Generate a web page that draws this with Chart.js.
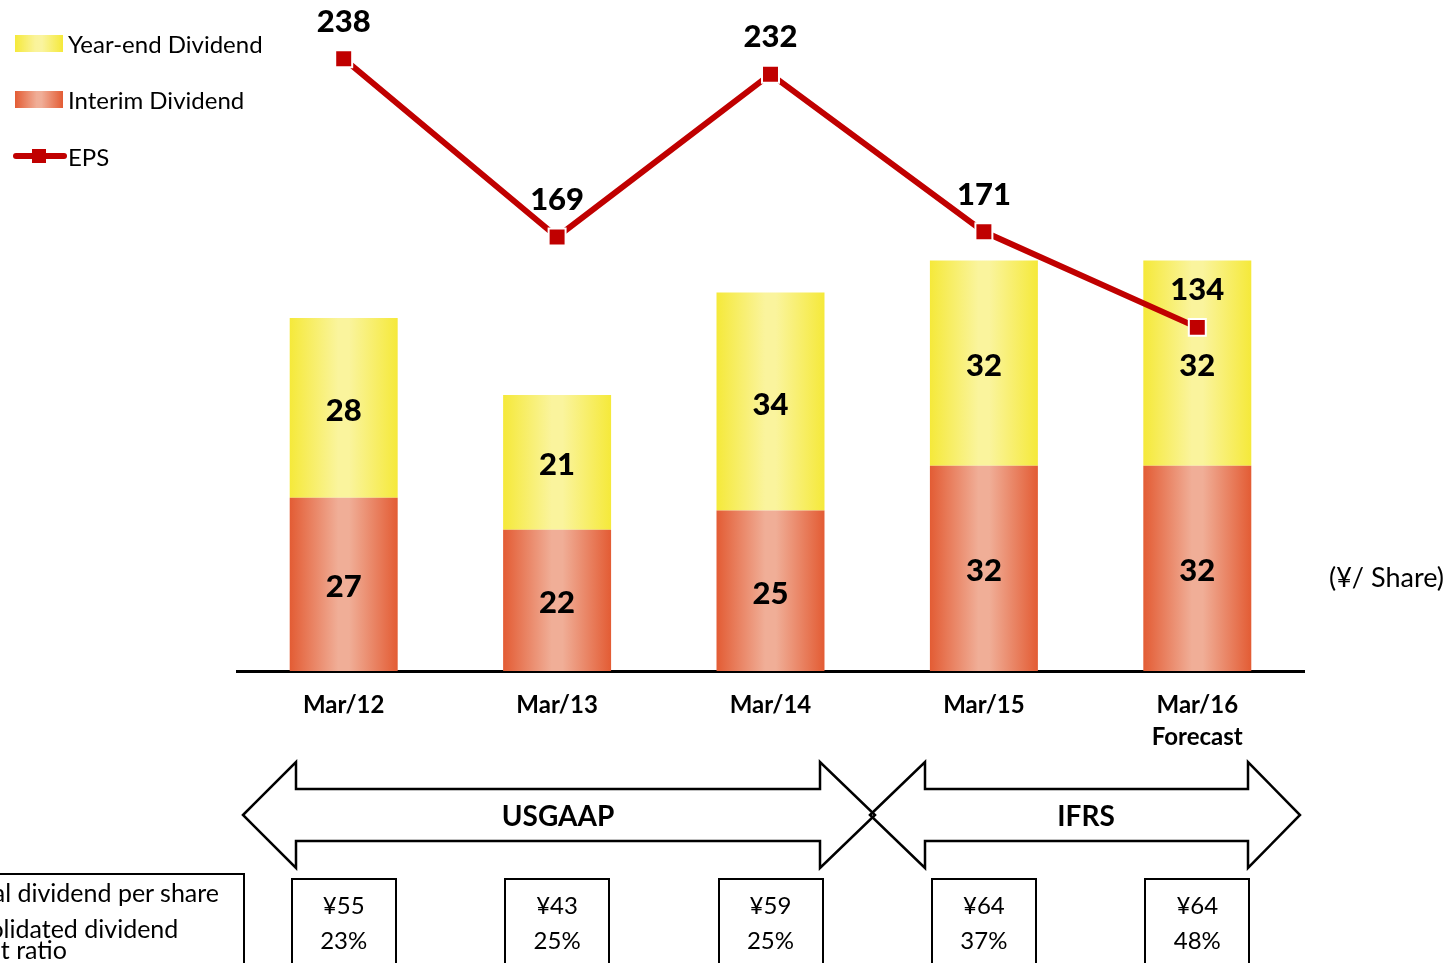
<!DOCTYPE html>
<html>
<head>
<meta charset="utf-8">
<script src="https://cdn.jsdelivr.net/npm/chart.js@4.4.1/dist/chart.umd.min.js"></script>
<style>
    html, body { margin: 0; padding: 0; background: #fff; }
    body { font-family: 'Lato', 'Open Sans', sans-serif; color: #000; }
    #page { position: relative; width: 1449px; height: 963px; overflow: hidden; }
    #chartWrap { position: absolute; left: 0; top: 0; width: 1449px; height: 963px; }
    .legend-item { position: absolute; left: 13px; height: 24px; display: flex; align-items: center; font-size: 24px; }
    .swatch { width: 48px; height: 17px; margin-left: 2px; margin-right: 5px; }
    .sw-year { background: linear-gradient(90deg, #f5e93a, #faf39a 42%, #faf4a0 56%, #f5e93a); }
    .sw-interim { background: linear-gradient(90deg, #e35c34, #f0ad96 45%, #f0ae98 55%, #e35c34); }
    .unit { position: absolute; left: 1329px; top: 560px; font-size: 27px; }
    #arrows { position: absolute; left: 0; top: 0; }
    .arrow-label { position: absolute; top: 798px; font-size: 28px; font-weight: bold; transform: translateX(-50%); }
    .box { position: absolute; top: 878px; width: 106px; height: 110px; border: 2px solid #000; text-align: center; font-size: 24px; line-height: 35px; padding-top: 7px; box-sizing: border-box; }
    .row-label { position: absolute; left: -74px; top: 873px; width: 315px; height: 110px; border: 2px solid #000; font-size: 25px; }
    .row-label div { position: absolute; left: 6px; white-space: nowrap; }
</style>
</head>
<body>
<div id="page">
    <div id="chartWrap"><canvas id="dividendChart"></canvas></div>

    <div class="legend-item" style="top: 31px;"><div class="swatch sw-year"></div>Year-end Dividend</div>
    <div class="legend-item" style="top: 87px;"><div class="swatch sw-interim"></div>Interim Dividend</div>
    <div class="legend-item" style="top: 144px;">
        <svg width="54" height="24" style="margin-right: 1px;">
            <line x1="3" y1="12" x2="51" y2="12" stroke="#c00000" stroke-width="6" stroke-linecap="round"/>
            <rect x="19" y="5" width="14" height="14" fill="#c00000"/>
        </svg>EPS
    </div>

    <div class="unit">(¥/ Share)</div>

    <svg id="arrows" width="1449" height="963">
        <polygon points="243,815 296,762 296,789 820,789 820,762 875,815 820,868 820,841 296,841 296,868"
                 fill="none" stroke="#000" stroke-width="2.5" stroke-linejoin="miter"/>
        <polygon points="870,815 925,762 925,789 1248,789 1248,762 1300,815 1248,868 1248,841 925,841 925,868"
                 fill="none" stroke="#000" stroke-width="2.5" stroke-linejoin="miter"/>
    </svg>
    <div class="arrow-label" style="left: 558px;">USGAAP</div>
    <div class="arrow-label" style="left: 1086px;">IFRS</div>

    <div class="row-label">
        <div style="top: 2px;">Annual dividend per share</div>
        <div style="top: 38px;">Consolidated dividend</div>
        <div style="top: 59px;">payout ratio</div>
    </div>
    <div id="boxes"></div>
</div>

<script>
const categories = ['Mar/12', 'Mar/13', 'Mar/14', 'Mar/15', ['Mar/16', 'Forecast']];
const interimDividend = [27, 22, 25, 32, 32];
const yearEndDividend = [28, 21, 34, 32, 32];
const eps = [238, 169, 232, 171, 134];
const annualDividend = ['¥55', '¥43', '¥59', '¥64', '¥64'];
const payoutRatio = ['23%', '25%', '25%', '37%', '48%'];

document.addEventListener('DOMContentLoaded', function() {

    Chart.defaults.font.family = "'Lato', 'Open Sans', sans-serif";
    Chart.defaults.color = '#000';

    const barPct = 0.506;

    // horizontal "cylinder" shading, one gradient per bar
    const barGradient = (edge, light) => (ctx) => {
        const chart = ctx.chart;
        if (!chart.chartArea || !chart.scales.x) return edge;
        const xScale = chart.scales.x;
        const cx = xScale.getPixelForValue(ctx.dataIndex);
        const half = xScale.width / categories.length * barPct / 2;
        const g = chart.ctx.createLinearGradient(cx - half, 0, cx + half, 0);
        g.addColorStop(0, edge);
        g.addColorStop(0.45, light);
        g.addColorStop(0.55, light);
        g.addColorStop(1, edge);
        return g;
    };

    const valueLabels = {
        id: 'valueLabels',
        afterDatasetsDraw(chart) {
            const ctx = chart.ctx;
            ctx.save();
            ctx.fillStyle = '#000';
            ctx.font = "900 31px 'Lato', 'Open Sans', sans-serif";
            ctx.textAlign = 'center';
            ctx.textBaseline = 'middle';
            chart.data.datasets.forEach((ds, i) => {
                const meta = chart.getDatasetMeta(i);
                meta.data.forEach((el, j) => {
                    if (ds.type === 'line') {
                        ctx.fillText(ds.data[j], el.x, el.y - 37);
                    } else {
                        ctx.fillText(ds.data[j], el.x, (el.y + el.base) / 2 + 3);
                    }
                });
            });
            ctx.restore();
        }
    };

    const chart = new Chart(document.getElementById('dividendChart'), {
        data: {
            labels: categories,
            datasets: [
                {
                    type: 'line',
                    label: 'EPS',
                    data: eps,
                    yAxisID: 'y2',
                    order: 0,
                    borderColor: '#c00000',
                    borderWidth: 6,
                    pointStyle: 'rect',
                    pointRadius: 12,
                    pointBackgroundColor: '#c00000',
                    pointBorderColor: '#fff',
                    pointBorderWidth: 2,
                    tension: 0
                },
                {
                    type: 'bar',
                    label: 'Interim Dividend',
                    data: interimDividend,
                    stack: 'div',
                    order: 1,
                    backgroundColor: barGradient('#e35c34', '#f0ae97'),
                    categoryPercentage: 1,
                    barPercentage: barPct
                },
                {
                    type: 'bar',
                    label: 'Year-end Dividend',
                    data: yearEndDividend,
                    stack: 'div',
                    order: 1,
                    backgroundColor: barGradient('#f5e93a', '#faf49d'),
                    categoryPercentage: 1,
                    barPercentage: barPct
                }
            ]
        },
        options: {
            responsive: true,
            maintainAspectRatio: false,
            animation: false,
            layout: {
                padding: { left: 237, right: 145, top: 0, bottom: 202 }
            },
            plugins: {
                legend: { display: false },
                tooltip: { enabled: false }
            },
            scales: {
                x: {
                    stacked: true,
                    grid: { display: false, drawTicks: false },
                    border: { display: true, color: '#000', width: 3 },
                    ticks: {
                        padding: 19,
                        font: { size: 24, weight: 'bold', lineHeight: 1.3 },
                        color: '#000'
                    },
                    afterFit(scale) { scale.height = 90; }
                },
                y: {
                    stacked: true,
                    display: false,
                    min: 0,
                    max: 102.4
                },
                y2: {
                    display: false,
                    position: 'right',
                    min: 1,
                    max: 255.3
                }
            }
        },
        plugins: [valueLabels]
    });

    // ratio boxes under each year, placed on the category centres
    const boxes = document.getElementById('boxes');
    categories.forEach((c, i) => {
        const cx = chart.scales.x.getPixelForValue(i);
        const box = document.createElement('div');
        box.className = 'box';
        box.style.left = (cx - 53) + 'px';
        box.innerHTML = annualDividend[i] + '<br>' + payoutRatio[i];
        boxes.appendChild(box);
    });
});
</script>
</body>
</html>
